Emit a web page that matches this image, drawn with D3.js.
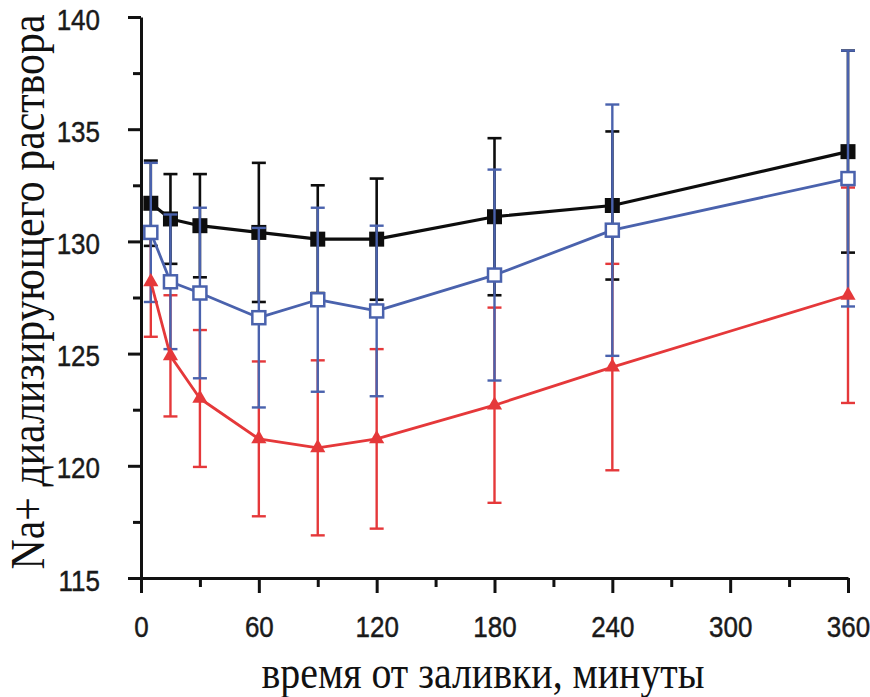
<!DOCTYPE html>
<html>
<head>
<meta charset="utf-8">
<script src="https://cdn.jsdelivr.net/npm/d3@7"></script>
<style>
  html, body { margin: 0; padding: 0; background: #fff; }
  svg { display: block; }
</style>
</head>
<body>
<svg id="chart" width="870" height="697"></svg>
<script>
// Sampling times, minutes after filling
const times = [5, 15, 30, 60, 90, 120, 180, 240, 360];

// Mean Na+ of dialysate and ± deviation for each group
const blackMean = [131.7, 131.0, 130.7, 130.4, 130.1, 130.1, 131.1, 131.6, 134.0];
const blackErr  = [1.9, 2.0, 2.3, 3.1, 2.4, 2.7, 3.5, 3.3, 4.5];

const blueMean = [130.4, 128.2, 127.7, 126.6, 127.4, 126.9, 128.5, 130.5, 132.8];
const blueErr  = [3.1, 3.0, 3.8, 4.0, 4.1, 3.8, 4.7, 5.6, 5.7];

const redMean = [128.2, 124.9, 123.0, 121.2, 120.8, 121.2, 122.7, 124.4, 127.6];
const redErr  = [2.45, 2.7, 3.05, 3.45, 3.9, 4.0, 4.35, 4.6, 4.8];

// Axis ticks
const xMajor = [0, 60, 120, 180, 240, 300, 360];
const xMinor = [30, 90, 150, 210, 270, 330];
const yMajor = [115, 120, 125, 130, 135, 140];
const yMinor = [117.5, 122.5, 127.5, 132.5, 137.5];

const yTitle = "Na+ диализирующего раствора";
const xTitle = "время от заливки, минуты";

const svg = d3.select("#chart");

const x = d3.scaleLinear().domain([0, 360]).range([141, 848]);
const y = d3.scaleLinear().domain([115, 140]).range([578, 17]);

const axisColor = "#111";
const tickFont = "'Liberation Sans', Arial, sans-serif";
const serifFont = "'Liberation Serif', 'Times New Roman', serif";

// ---- Axes ----
const gy = svg.append("g").attr("transform", `translate(${x(0)},0)`);
gy.call(d3.axisLeft(y).tickValues(yMajor).tickSize(13).tickSizeOuter(0).tickFormat(d3.format("d")));
gy.append("g").call(d3.axisLeft(y).tickValues(yMinor).tickSize(8).tickSizeOuter(0).tickFormat(""))
  .select(".domain").remove();

const gx = svg.append("g").attr("transform", `translate(0,${y(115)})`);
gx.call(d3.axisBottom(x).tickValues(xMajor).tickSize(15).tickSizeOuter(0).tickFormat(d3.format("d")));
gx.append("g").call(d3.axisBottom(x).tickValues(xMinor).tickSize(9).tickSizeOuter(0).tickFormat(""))
  .select(".domain").remove();

svg.selectAll(".domain").attr("stroke", axisColor).attr("stroke-width", 3);
svg.selectAll(".tick line").attr("stroke", axisColor).attr("stroke-width", 3);

// Tick labels: slightly tall, narrow sans digits
gy.selectAll(".tick text")
  .attr("font-family", tickFont).attr("font-size", 26).attr("fill", "#1a1a1a")
  .attr("stroke", "#1a1a1a").attr("stroke-width", 0.4)
  .attr("x", null).attr("dy", null)
  .attr("text-anchor", "end").attr("dominant-baseline", "central")
  .attr("transform", "translate(-41,2) scale(1,1.15)");

gx.selectAll(".tick text")
  .attr("font-family", tickFont).attr("font-size", 26).attr("fill", "#1a1a1a")
  .attr("stroke", "#1a1a1a").attr("stroke-width", 0.4)
  .attr("y", null).attr("dy", null)
  .attr("text-anchor", "middle")
  .attr("transform", "translate(0,59) scale(1,1.15)");

// ---- Series ----
function errorBars(mean, err, color, width) {
  const g = svg.append("g").attr("stroke", color).attr("stroke-width", width).attr("fill", "none");
  const cap = 7;
  times.forEach((t, i) => {
    const cx = x(t), top = y(mean[i] + err[i]), bot = y(mean[i] - err[i]);
    g.append("line").attr("x1", cx).attr("x2", cx).attr("y1", top).attr("y2", bot);
    g.append("line").attr("x1", cx - cap).attr("x2", cx + cap).attr("y1", top).attr("y2", top);
    g.append("line").attr("x1", cx - cap).attr("x2", cx + cap).attr("y1", bot).attr("y2", bot);
  });
}

function seriesLine(mean, color, width) {
  const line = d3.line().x((d, i) => x(times[i])).y(d => y(d));
  svg.append("path").datum(mean).attr("d", line)
    .attr("fill", "none").attr("stroke", color).attr("stroke-width", width)
    .attr("stroke-linejoin", "round");
}

const black = "#0d0d0d";
const blue = "#4a62ad";
const red = "#e5383a";

// Black: filled squares
errorBars(blackMean, blackErr, black, 2.6);
seriesLine(blackMean, black, 3.2);
svg.append("g").selectAll("rect").data(blackMean).join("rect")
  .attr("x", (d, i) => x(times[i]) - 7.5).attr("y", d => y(d) - 7.5)
  .attr("width", 15).attr("height", 15).attr("fill", black);

// Red and blue deviations
errorBars(redMean, redErr, red, 2.4);
errorBars(blueMean, blueErr, blue, 2.4);

// Red: filled triangles
seriesLine(redMean, red, 2.8);
const tri = d3.symbol().type(d3.symbolTriangle).size(100);
svg.append("g").selectAll("path").data(redMean).join("path")
  .attr("d", tri)
  .attr("transform", (d, i) => `translate(${x(times[i])},${y(d)})`)
  .attr("fill", red);

// Blue: open squares
seriesLine(blueMean, blue, 2.8);
svg.append("g").selectAll("rect").data(blueMean).join("rect")
  .attr("x", (d, i) => x(times[i]) - 6.5).attr("y", d => y(d) - 6.5)
  .attr("width", 13).attr("height", 13)
  .attr("fill", "#fff").attr("stroke", blue).attr("stroke-width", 2.5);

// ---- Axis titles ----
svg.append("text")
  .attr("transform", "translate(483,688) scale(1,1.18)")
  .attr("text-anchor", "middle")
  .attr("font-family", serifFont)
  .attr("font-size", 40).attr("fill", "#111")
  .attr("textLength", 443).attr("lengthAdjust", "spacingAndGlyphs")
  .text(xTitle);

svg.append("text")
  .attr("transform", "translate(44,292) rotate(-90) scale(1,1.25)")
  .attr("text-anchor", "middle")
  .attr("font-family", serifFont)
  .attr("font-size", 38).attr("fill", "#111")
  .attr("textLength", 555).attr("lengthAdjust", "spacingAndGlyphs")
  .text(yTitle);
</script>
</body>
</html>
